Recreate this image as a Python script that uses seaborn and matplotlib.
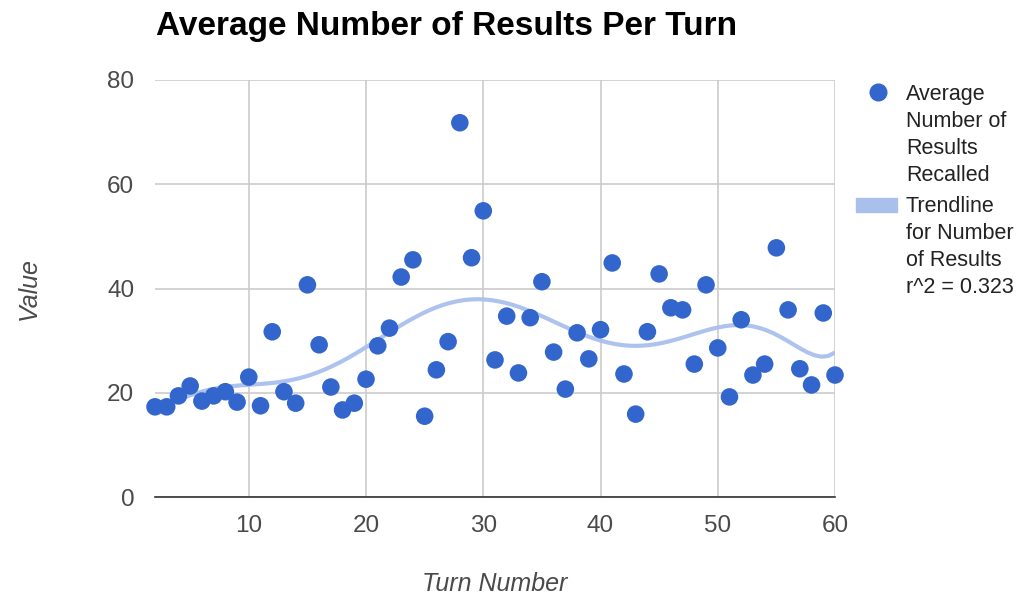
import numpy as np
import pandas as pd
import seaborn as sns
import matplotlib
matplotlib.use("Agg")
import matplotlib.pyplot as plt
from matplotlib.lines import Line2D
from matplotlib.patches import Rectangle

turns = list(range(2, 61))
avg_results = [17.3, 17.3, 19.4, 21.3, 18.4, 19.4, 20.2, 18.2, 23.0, 17.5,
               31.7, 20.2, 18.0, 40.7, 29.2, 21.1, 16.7, 18.0, 22.6, 29.0,
               32.4, 42.2, 45.5, 15.5, 24.4, 29.8, 71.8, 45.9, 54.9, 26.3,
               34.7, 23.8, 34.4, 41.3, 27.8, 20.7, 31.5, 26.5, 32.1, 44.9,
               23.6, 15.9, 31.7, 42.8, 36.3, 35.9, 25.5, 40.7, 28.6, 19.2,
               34.0, 23.4, 25.5, 47.8, 35.9, 24.6, 21.5, 35.3, 23.4]
x_ticks = [10, 20, 30, 40, 50, 60]
y_ticks = [0, 20, 40, 60, 80]

title = "Average Number of Results Per Turn"
series_label = "Average\nNumber of\nResults\nRecalled"
trend_label = "Trendline\nfor Number\nof Results\nr^2 = 0.323"

df = pd.DataFrame({"Turn Number": turns, "Value": avg_results})

sns.set_theme(style="white")
plt.rcParams['font.family'] = ['Liberation Sans', 'DejaVu Sans']

fig = plt.figure(figsize=(10.26, 5.97), dpi=100)
ax = fig.add_axes([155/1026, 1-497/597, 680/1026, 417/597])

dot = "#3366CC"
trend = "#A9C0EC"

sns.regplot(data=df, x="Turn Number", y="Value", order=8, ci=None, scatter=False,
            ax=ax, truncate=True,
            line_kws=dict(color=trend, lw=3, alpha=0.95, zorder=2, solid_capstyle='butt'))
sns.scatterplot(data=df, x="Turn Number", y="Value", ax=ax, s=160, color=dot,
                edgecolor="none", linewidth=0, zorder=3, clip_on=False)

ax.set_xlim(2, 60)
ax.set_ylim(0, 80)
ax.set_xticks(x_ticks)
ax.set_yticks(y_ticks)
ax.grid(True, color="#CCCCCC", lw=1.2)
ax.set_axisbelow(True)
for s in ["top", "right", "left"]:
    ax.spines[s].set_visible(False)
ax.spines["bottom"].set_color("#333333")
ax.spines["bottom"].set_linewidth(1.2)
ax.tick_params(axis="x", length=0, labelsize=17.5, colors="#4a4a4a", pad=13)
ax.tick_params(axis="y", length=0, labelsize=17.5, colors="#4a4a4a", pad=15)
ax.set_xlabel("Turn Number", fontsize=18, style="italic", color="#4a4a4a", labelpad=25)
ax.set_ylabel("Value", fontsize=18, style="italic", color="#4a4a4a", labelpad=48)

fig.text(156/1026, 1-26/597, title, fontsize=24, fontweight="bold", color="#000000",
         va="center", ha="left")

# legend
fig.add_artist(Line2D([878/1026], [1-92/597], marker="o", markersize=13, color=dot,
                      markeredgewidth=0, linestyle="none", transform=fig.transFigure))
fig.text(906/1026, 1-84/597, series_label, fontsize=15.5, color="#222222",
         va="top", ha="left", linespacing=1.37)
fig.add_artist(Rectangle((856/1026, 1-212/597), 41/1026, 14/597, color=trend,
                         transform=fig.transFigure))
fig.text(906/1026, 1-196/597, trend_label, fontsize=15.5, color="#222222",
         va="top", ha="left", linespacing=1.37)

fig.savefig("out.png", dpi=100)
